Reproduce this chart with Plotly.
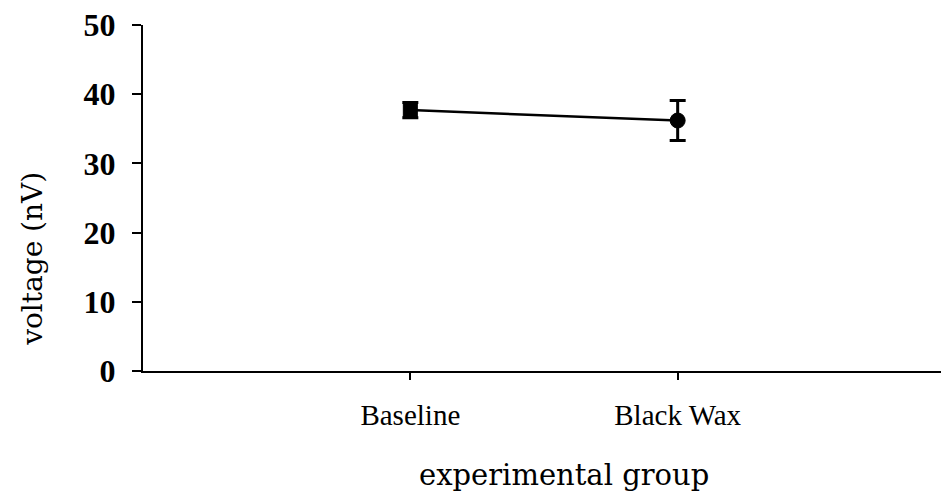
import plotly.graph_objects as go

categories = ["Baseline", "Black Wax"]
means = [37.7, 36.2]
errors = [1.1, 2.9]
markers = ["square", "circle"]
y_ticks = [0, 10, 20, 30, 40, 50]
x_title = "experimental group"
y_title = "voltage (nV)"

fig = go.Figure()
fig.add_trace(go.Scatter(
    x=[0, 1], y=means,
    mode="lines+markers",
    line=dict(color="black", width=2.5),
    marker=dict(symbol=markers, size=[14, 15], color="#000000", opacity=1,
                line=dict(color="#000000", width=1)),
    error_y=dict(type="data", array=errors, visible=True, color="black",
                 thickness=3, width=8),
    showlegend=False,
))

fig.update_layout(
    width=941, height=485,
    margin=dict(l=135, r=4, t=17, b=122, autoexpand=False),
    plot_bgcolor="white", paper_bgcolor="white",
    font=dict(family="DejaVu Serif", color="black"),
    annotations=[
        dict(text=x_title, xref="paper", yref="paper", x=0.525, y=-0.30,
             xanchor="center", yanchor="middle", showarrow=False,
             font=dict(family="DejaVu Serif", size=29)),
        dict(text=y_title, xref="paper", yref="paper", x=-0.138, y=0.325,
             xanchor="center", yanchor="middle", showarrow=False, textangle=-90,
             font=dict(family="DejaVu Serif", size=28)),
    ],
)
fig.update_xaxes(
    range=[-1, 2], tickvals=[0, 1], ticktext=categories,
    showline=True, linecolor="black", linewidth=2,
    ticks="outside", ticklen=7, tickwidth=2, tickcolor="black",
    ticklabelstandoff=10, automargin=False,
    showgrid=False, zeroline=False,
    tickfont=dict(family="Liberation Serif", size=29),
)
fig.update_yaxes(
    range=[0, 50], tickvals=y_ticks,
    showline=True, linecolor="black", linewidth=2,
    ticks="outside", ticklen=9, tickwidth=2, tickcolor="black",
    ticklabelstandoff=10, ticklabeloverflow="allow", automargin=False,
    showgrid=False, zeroline=False,
    tickfont=dict(family="Liberation Serif", size=32, weight="bold"),
)

fig.write_html("out.html")
